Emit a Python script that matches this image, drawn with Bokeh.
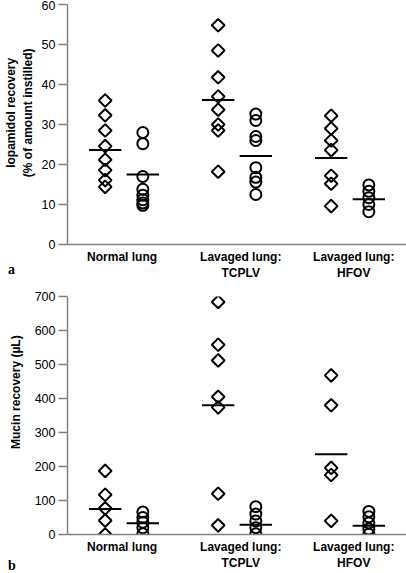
import numpy as np
from bokeh.plotting import figure
from bokeh.layouts import column
from bokeh.models import Range1d, FixedTicker, Div
from bokeh.embed import file_html
from bokeh.resources import INLINE

# ---------------- data ----------------
groups = ["Normal lung", "Lavaged lung:\nTCPLV", "Lavaged lung:\nHFOV"]
label_pos = [1.45, 4.6, 7.6]
diamond_x = [1, 4, 7]
circle_x = [2, 5, 8]

# panel a: Iopamidol recovery (% of amount instilled)
normal_diamond_a = [36.0, 32.3, 28.5, 24.6, 21.2, 18.6, 16.1, 14.4]
normal_circle_a = [28.0, 25.2, 17.0, 13.8, 12.3, 11.2, 10.4, 9.8]
tcplv_diamond_a = [54.8, 48.5, 41.8, 37.0, 33.7, 30.0, 28.5, 18.2]
tcplv_circle_a = [32.6, 31.0, 27.0, 26.0, 19.2, 16.8, 15.6, 12.5]
hfov_diamond_a = [32.2, 29.0, 26.0, 23.6, 17.2, 15.2, 9.6]
hfov_circle_a = [14.9, 13.3, 11.7, 10.0, 8.2]
median_diamond_a = [23.6, 36.1, 21.6]
median_circle_a = [17.5, 22.1, 11.3]

# panel b: Mucin recovery (µL)
normal_diamond_b = [187, 117, 77, 41, 0]
normal_circle_b = [66, 50, 36, 20, 2]
tcplv_diamond_b = [684, 558, 512, 405, 374, 120, 27]
tcplv_circle_b = [82, 60, 40, 20, 2]
hfov_diamond_b = [468, 380, 196, 175, 40]
hfov_circle_b = [68, 52, 34, 16, 1]
median_diamond_b = [75, 380, 236]
median_circle_b = [33, 29, 26]

yticks_a = [0, 10, 20, 30, 40, 50, 60]
yticks_b = [0, 100, 200, 300, 400, 500, 600, 700]

FONT = "Liberation Sans"
AXIS_COLOR = "#808080"
NB = "\u00a0"


def make_panel(height, y_max, yticks, diamonds, circles, med_d, med_c,
               ylabel, ylabel_standoff, border_top, border_bottom):
    p = figure(width=406, height=height, output_backend="svg",
               toolbar_location=None, x_range=Range1d(0, 9),
               y_range=Range1d(0, y_max),
               min_border_left=62, min_border_right=0,
               min_border_top=border_top, min_border_bottom=border_bottom)
    p.outline_line_color = None
    p.xgrid.visible = False
    p.ygrid.visible = False
    p.background_fill_color = "white"

    # y axis
    ya = p.yaxis[0]
    ya.ticker = FixedTicker(ticks=yticks)
    ya.axis_line_color = AXIS_COLOR
    ya.axis_line_width = 1.5
    ya.major_tick_line_color = AXIS_COLOR
    ya.major_tick_line_width = 1.5
    ya.major_tick_out = 9
    ya.major_tick_in = 0
    ya.minor_tick_line_color = None
    ya.major_label_text_font = FONT
    ya.major_label_text_font_size = "12.5px"
    ya.major_label_text_color = "black"
    ya.major_label_standoff = 3
    ya.axis_label = ylabel
    ya.axis_label_text_font = FONT
    ya.axis_label_text_font_style = "bold"
    ya.axis_label_text_font_size = "12px"
    ya.axis_label_text_color = "black"
    ya.axis_label_standoff = ylabel_standoff

    # x axis
    xa = p.xaxis[0]
    xa.ticker = FixedTicker(ticks=label_pos)
    xa.major_label_overrides = {pos: g for pos, g in zip(label_pos, groups)}
    xa.axis_line_color = AXIS_COLOR
    xa.axis_line_width = 1.5
    xa.major_tick_line_color = None
    xa.major_tick_out = 0
    xa.major_tick_in = 0
    xa.minor_tick_line_color = None
    xa.minor_tick_out = 0
    xa.major_label_text_font = FONT
    xa.major_label_text_font_style = "bold"
    xa.major_label_text_font_size = "12px"
    xa.major_label_text_color = "black"
    xa.major_label_standoff = 5
    xa.axis_label_standoff = 0

    # points
    for xd, vals in zip(diamond_x, diamonds):
        p.scatter([xd] * len(vals), vals, marker="square", angle=np.pi / 4,
                  size=9, fill_color=None, line_color="black", line_width=2)
    for xc, vals in zip(circle_x, circles):
        p.scatter([xc] * len(vals), vals, marker="circle",
                  size=11, fill_color=None, line_color="black", line_width=2)

    # median lines
    half = 0.43
    p.segment(x0=[x - half for x in diamond_x], x1=[x + half for x in diamond_x],
              y0=med_d, y1=med_d, line_color="black", line_width=2)
    p.segment(x0=[x - half for x in circle_x], x1=[x + half for x in circle_x],
              y0=med_c, y1=med_c, line_color="black", line_width=2)
    return p


def letter_div(letter, top):
    return Div(text=letter, width=12, height=16,
               styles={"position": "absolute", "top": f"{top}px", "left": "3px",
                       "font-family": "Liberation Serif", "font-weight": "bold",
                       "font-size": "14px", "line-height": "16px",
                       "color": "black"})


pad_a = NB * 7
pad_b = NB * 14
pa = make_panel(284, 60, yticks_a,
                [normal_diamond_a, tcplv_diamond_a, hfov_diamond_a],
                [normal_circle_a, tcplv_circle_a, hfov_circle_a],
                median_diamond_a, median_circle_a,
                pad_a + "Iopamidol recovery\n" + pad_a + "(% of amount instilled)", 4,
                4, 40)

pb = make_panel(289, 700, yticks_b,
                [normal_diamond_b, tcplv_diamond_b, hfov_diamond_b],
                [normal_circle_b, tcplv_circle_b, hfov_circle_b],
                median_diamond_b, median_circle_b,
                pad_b + "Mucin recovery (µL)", 9,
                12, 38)

layout = column(pa, pb, letter_div("a", 257), letter_div("b", 553))
open("out.html", "w").write(file_html(layout, INLINE))
